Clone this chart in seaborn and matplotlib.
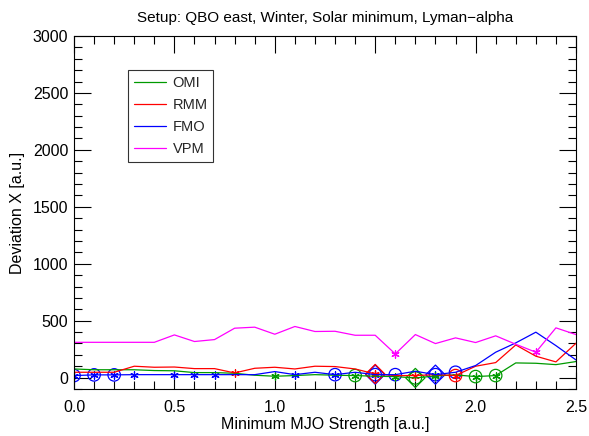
import numpy as np
import pandas as pd
import matplotlib
matplotlib.use("Agg")
import matplotlib.pyplot as plt
import seaborn as sns
from matplotlib.ticker import MultipleLocator
from matplotlib.lines import Line2D

# ---- data ----
strength = [round(0.1 * i, 1) for i in range(26)]
omi = [76, 69, 69, 69, 62, 60, 44, 44, 38, 21, 12, 18, 26, 21, 18, 12, 9, -3, 15, 24, 9, 18, 129, 126, 114, 141]
rmm = [47, 47, 47, 100, 91, 93, 79, 79, 41, 82, 91, 76, 100, 97, 76, 32, 18, 18, 26, 18, 100, 132, 287, 188, 138, 302]
fmo = [18, 24, 24, 26, 26, 26, 26, 26, 26, 26, 53, 26, 47, 26, 47, 26, 26, 56, 26, 47, 106, 223, 305, 399, 281, 155]
vpm = [310, 310, 310, 310, 310, 375, 317, 334, 434, 443, 381, 449, 405, 407, 372, 372, 208, 378, 299, 349, 308, 367, 293, 223, 437, 378]

series_names = ["OMI", "RMM", "FMO", "VPM"]
series_vals = [omi, rmm, fmo, vpm]
colors = {"OMI": "#009a00", "RMM": "#ff0000", "FMO": "#0000ff", "VPM": "#ff00ff"}

# marker positions (indices into strength)
stars = {"FMO": [0, 1, 2, 3, 5, 6, 7, 11, 13, 15, 18], "RMM": [8, 15, 17, 19],
         "OMI": [10, 14, 16, 18, 20, 21], "VPM": [16, 23]}
circles = {"FMO": [0, 1, 2, 13, 15, 16, 18, 19], "RMM": [19], "OMI": [14, 17, 20, 21], "VPM": []}
diamonds = {"FMO": [15, 18], "RMM": [15], "OMI": [17], "VPM": []}

title = "Setup: QBO east, Winter, Solar minimum, Lyman\u2212alpha"
xlabel = "Minimum MJO Strength [a.u.]"
ylabel = "Deviation X [a.u.]"

df = pd.DataFrame({
    "x": np.tile(strength, len(series_names)),
    "y": np.concatenate(series_vals),
    "series": np.repeat(series_names, len(strength)),
})

sns.set_theme(style="white")
plt.rcParams["font.family"] = ["Liberation Sans", "DejaVu Sans"]

fig = plt.figure(figsize=(5.89, 4.36), dpi=100)
ax = fig.add_axes([74 / 589, 1 - 389 / 436, 502 / 589, 353 / 436])

sns.lineplot(data=df, x="x", y="y", hue="series", hue_order=series_names,
             palette=colors, linewidth=0.9, ax=ax, legend=False, estimator=None)

for name in ["FMO", "RMM", "OMI", "VPM"]:
    sub = df[df.series == name].reset_index(drop=True)
    c = colors[name]
    d = sub.loc[diamonds[name]]
    if len(d):
        sns.scatterplot(data=d, x="x", y="y", marker="D", s=95, facecolors="none",
                        edgecolor=c, linewidth=0.9, ax=ax, legend=False)
    ci = sub.loc[circles[name]]
    if len(ci):
        sns.scatterplot(data=ci, x="x", y="y", marker="o", s=80, facecolors="none",
                        edgecolor=c, linewidth=0.9, ax=ax, legend=False)
    st = sub.loc[stars[name]]
    if len(st):
        sns.scatterplot(data=st, x="x", y="y", marker=(6, 2, 0), s=28, color=c,
                        linewidth=0.9, ax=ax, legend=False)

ax.set_xlim(0, 2.5)
ax.set_ylim(-100, 3000)
ax.xaxis.set_major_locator(MultipleLocator(0.5))
ax.xaxis.set_minor_locator(MultipleLocator(0.1))
ax.yaxis.set_major_locator(MultipleLocator(500))
ax.yaxis.set_minor_locator(MultipleLocator(100))
ax.xaxis.set_major_formatter(matplotlib.ticker.FormatStrFormatter("%.1f"))
ax.tick_params(which="both", direction="in", top=True, right=True, bottom=True, left=True,
               color="black", width=0.8, labelsize=11.5, labelcolor="black")
ax.tick_params(which="major", length=12)
ax.tick_params(which="minor", length=6)
ax.tick_params(axis="x", pad=8)
ax.tick_params(axis="y", pad=4)
for sp in ax.spines.values():
    sp.set_color("black")
    sp.set_linewidth(0.8)

ax.set_xlabel(xlabel, fontsize=11.5, color="black", labelpad=1)
ax.set_ylabel(ylabel, fontsize=11.5, color="black", labelpad=6)
ax.set_title(title, fontsize=11, color="black", pad=10)

handles = [Line2D([0], [0], color=colors[n], linewidth=0.9) for n in series_names]
leg = ax.legend(handles, series_names, loc="upper left", bbox_to_anchor=(0.1076, 0.904),
                fontsize=10.5, frameon=True, fancybox=False, edgecolor="black",
                handlelength=2.2, handletextpad=0.45, labelspacing=0.55, borderpad=0.4,
                borderaxespad=0)
leg.get_frame().set_linewidth(0.8)

fig.savefig("out.png", dpi=100)
